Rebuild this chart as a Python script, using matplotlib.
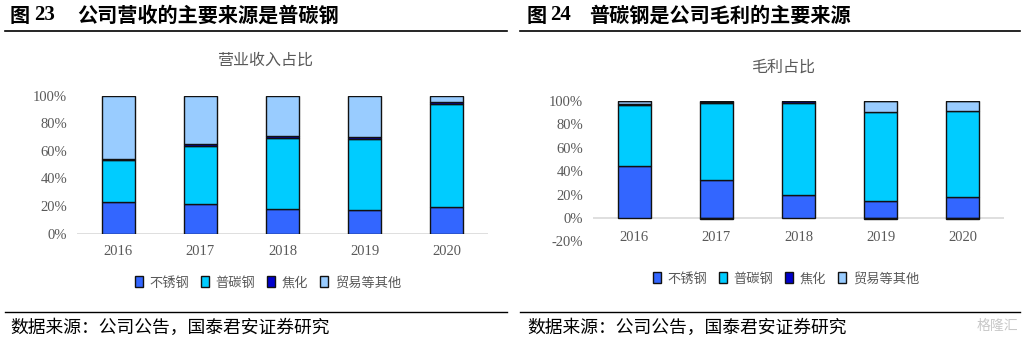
import matplotlib
matplotlib.use('Agg')
import matplotlib.pyplot as plt
from matplotlib.patches import Patch
import numpy as np

plt.rcParams['font.family'] = ['Noto Sans CJK SC', 'DejaVu Sans']

years = ['2016', '2017', '2018', '2019', '2020']
series_names = ['不锈钢', '普碳钢', '焦化', '贸易等其他']
colors = ['#3366FF', '#00CCFF', '#0000CC', '#99CCFF']

# 营业收入占比 (%)
rev_stainless = [22.8, 21.5, 18.0, 17.4, 19.2]
rev_carbon = [30.6, 42.4, 51.3, 51.4, 74.5]
rev_coke = [0.6, 0.9, 1.2, 1.0, 1.5]
rev_trade = [46.0, 35.2, 29.5, 30.2, 4.8]

# 毛利占比 (%)
gp_stainless = [44.7, 32.8, 19.7, 14.8, 18.2]
gp_carbon = [52.2, 65.5, 78.9, 76.1, 73.0]
gp_coke = [0.6, 1.0, 1.4, -0.8, -1.2]
gp_trade = [2.5, 0.7, 0.0, 9.1, 8.6]
gp_trade_neg = [0.0, -0.6, 0.0, 0.0, 0.0]

tick_color = '#595959'
serif = 'Liberation Serif'

fig = plt.figure(figsize=(10.25, 3.41), dpi=100)


def stacked(ax, parts):
    x = np.arange(len(years))
    pos = np.zeros(len(years))
    neg = np.zeros(len(years))
    for vals, c in parts:
        v = np.array(vals) / 100.0
        bottom = np.where(v >= 0, pos, neg)
        ax.bar(x, v, 0.4, bottom=bottom, color=c, edgecolor='#111111', linewidth=1.0, zorder=3)
        pos = pos + np.where(v >= 0, v, 0)
        neg = neg + np.where(v < 0, v, 0)
    ax.set_xlim(-0.5, 4.5)
    ax.set_xticks(x)
    ax.set_xticklabels(years)
    for s in ['top', 'right', 'left', 'bottom']:
        ax.spines[s].set_visible(False)
    ax.spines['bottom'].set_position(('data', 0))
    ax.axhline(0, color='#D9D9D9', linewidth=1.2, zorder=2)
    ax.tick_params(length=0, labelsize=10.5, colors=tick_color)
    ax.tick_params(axis='y', pad=7)
    ax.tick_params(axis='x', pad=8)
    for lab in ax.get_xticklabels() + ax.get_yticklabels():
        lab.set_family(serif)


ax1 = fig.add_axes([0.0751, 0.3147, 0.401, 0.4047])
stacked(ax1, [(rev_stainless, colors[0]), (rev_carbon, colors[1]),
              (rev_coke, colors[2]), (rev_trade, colors[3])])
ax1.set_ylim(0, 1.0)
ax1.set_yticks(np.arange(0, 1.01, 0.2))
ax1.set_yticklabels(['0%', '20%', '40%', '60%', '80%', '100%'], family=serif)

ax2 = fig.add_axes([0.5785, 0.292, 0.401, 0.4118])
stacked(ax2, [(gp_stainless, colors[0]), (gp_carbon, colors[1]),
              (gp_coke, colors[2]), (gp_trade, colors[3]), (gp_trade_neg, colors[3])])
ax2.set_ylim(-0.2, 1.0)
ax2.set_yticks(np.arange(-0.2, 1.01, 0.2))
ax2.set_yticklabels(['-20%', '0%', '20%', '40%', '60%', '80%', '100%'], family=serif)
ax2.tick_params(axis='x', pad=9)

# headers
hy = 1 - 15 / 341
fig.text(10 / 1025, hy, '图', fontsize=14.5, fontweight='bold', va='center', ha='left')
fig.text(34 / 1025, hy, '23', fontsize=15, fontweight='bold', family='Liberation Serif', va='center', ha='left')
fig.text(77 / 1025, hy, '公司营收的主要来源是普碳钢', fontsize=14.5, fontweight='bold', va='center', ha='left')
fig.text(527 / 1025, hy, '图', fontsize=14.5, fontweight='bold', va='center', ha='left')
fig.text(550 / 1025, hy, '24', fontsize=15, fontweight='bold', family='Liberation Serif', va='center', ha='left')
fig.text(589 / 1025, hy, '普碳钢是公司毛利的主要来源', fontsize=14.5, fontweight='bold', va='center', ha='left')
fig.add_artist(plt.Line2D([5 / 1025, 507 / 1025], [1 - 31 / 341] * 2, color='black', linewidth=1.2))
fig.add_artist(plt.Line2D([520 / 1025, 1020 / 1025], [1 - 31 / 341] * 2, color='black', linewidth=1.2))

fig.text(265 / 1025, 1 - 60 / 341, '营业收入占比', fontsize=11.5, color=tick_color, ha='center', va='center')
fig.text(783 / 1025, 1 - 67 / 341, '毛利占比', fontsize=11.5, color=tick_color, ha='center', va='center')

handles = [Patch(facecolor=c, edgecolor='#111111', linewidth=1.0) for c in colors]
for cx, cy in [(268, 283), (786, 279)]:
    leg = fig.legend(handles, series_names, loc='center', bbox_to_anchor=(cx / 1025, 1 - cy / 341),
                     ncol=4, frameon=False, fontsize=9.5, handlelength=0.6, handleheight=0.9,
                     handletextpad=0.5, columnspacing=0.9)
    for t in leg.get_texts():
        t.set_color(tick_color)

# footer
fig.add_artist(plt.Line2D([5 / 1025, 507 / 1025], [1 - 312 / 341] * 2, color='black', linewidth=1.0))
fig.add_artist(plt.Line2D([520 / 1025, 1020 / 1025], [1 - 312 / 341] * 2, color='black', linewidth=1.0))
fig.text(10 / 1025, 1 - 328 / 341, '数据来源：公司公告，国泰君安证券研究', fontsize=12.8, va='center', ha='left')
fig.text(527 / 1025, 1 - 328 / 341, '数据来源：公司公告，国泰君安证券研究', fontsize=12.8, va='center', ha='left')
fig.text(1018 / 1025, 1 - 326 / 341, '格隆汇', fontsize=10, color='#C8C8C8', va='center', ha='right')

fig.savefig('out.png', dpi=100)
